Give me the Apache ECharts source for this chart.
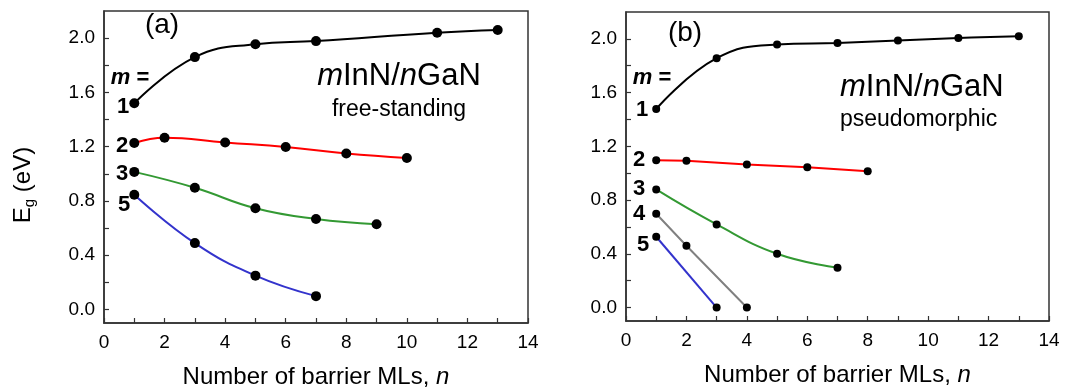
<!DOCTYPE html>
<html>
<head>
<meta charset="utf-8">
<script src="https://cdn.jsdelivr.net/npm/echarts@6/dist/echarts.min.js"></script>
<style>
  html, body { margin: 0; padding: 0; background: #fff; }
  #chart { width: 1072px; height: 389px; }
</style>
</head>
<body>
<div id="chart"></div>
<script>
// (a) free-standing
const aN1 = [1, 3, 5, 7, 11, 13]
const aE1 = [1.52, 1.86, 1.955, 1.978, 2.04, 2.06]
const aN2 = [1, 2, 4, 6, 8, 10]
const aE2 = [1.227, 1.266, 1.23, 1.198, 1.15, 1.117]
const aN3 = [1, 3, 5, 7, 9]
const aE3 = [1.014, 0.897, 0.746, 0.667, 0.628]
const aN5 = [1, 3, 5, 7]
const aE5 = [0.846, 0.489, 0.249, 0.098]

// (b) pseudomorphic
const bN1 = [1, 3, 5, 7, 9, 11, 13]
const bE1 = [1.478, 1.856, 1.958, 1.97, 1.988, 2.007, 2.02]
const bN2 = [1, 2, 4, 6, 8]
const bE2 = [1.097, 1.092, 1.064, 1.045, 1.015]
const bN3 = [1, 3, 5, 7]
const bE3 = [0.879, 0.619, 0.401, 0.297]
const bN4 = [1, 2, 4]
const bE4 = [0.698, 0.46, 0]
const bN5 = [1, 3]
const bE5 = [0.527, 0]

const xTicks = [0, 1, 2, 3, 4, 5, 6, 7, 8, 9, 10, 11, 12, 13, 14]
const xLabels = [0, 2, 4, 6, 8, 10, 12, 14]
const yTicks = [0, 0.2, 0.4, 0.6, 0.8, 1.0, 1.2, 1.4, 1.6, 1.8, 2.0]
const yLabels = [0, 0.4, 0.8, 1.2, 1.6, 2.0]

const FONT = "'Liberation Sans', Arial, sans-serif"
const FRAME = '#333'

const zip = (xs, ys) => xs.map((x, i) => [x, ys[i]])

function xAxisOf(gridIndex) {
  return {
    type: 'value', gridIndex, min: 0, max: 14,
    name: '{t|Number of barrier MLs, }{i|n}',
    nameLocation: 'middle', nameGap: 42,
    nameTextStyle: {
      rich: {
        t: { fontFamily: FONT, fontSize: 24, color: '#000' },
        i: { fontFamily: FONT, fontSize: 24, color: '#000', fontStyle: 'italic' }
      }
    },
    axisLine: { onZero: false, lineStyle: { color: FRAME, width: 1.5 } },
    axisTick: { inside: true, length: 5, customValues: xTicks, lineStyle: { color: FRAME, width: 1.2 } },
    axisLabel: { customValues: xLabels, margin: 10, fontFamily: FONT, fontSize: 19, color: '#000' },
    splitLine: { show: false }
  }
}

function yAxisOf(gridIndex) {
  return {
    type: 'value', gridIndex, min: -0.1, max: 2.2,
    axisLine: { onZero: false, lineStyle: { color: FRAME, width: 1.5 } },
    axisTick: { inside: true, length: 5, customValues: yTicks, lineStyle: { color: FRAME, width: 1.2 } },
    axisLabel: {
      customValues: yLabels, margin: 9, fontFamily: FONT, fontSize: 19, color: '#000',
      formatter: v => v.toFixed(1)
    },
    splitLine: { show: false }
  }
}

function curve(idx, xs, ys, color, smooth) {
  return {
    type: 'line', xAxisIndex: idx, yAxisIndex: idx,
    data: zip(xs, ys), smooth, showSymbol: false,
    lineStyle: { color, width: 2 }, z: 2
  }
}

function dots(idx, xs, ys, size) {
  return {
    type: 'scatter', xAxisIndex: idx, yAxisIndex: idx,
    data: zip(xs, ys), symbolSize: size,
    itemStyle: { color: '#000', opacity: 1 }, z: 3
  }
}

function txt(x, y, text, size, opts = {}) {
  return {
    type: 'text', x, y, z: 10,
    style: {
      text, font: `${opts.weight || 'normal'} ${size}px ${FONT}`, fill: '#000',
      align: opts.align || 'center', verticalAlign: 'middle'
    }
  }
}

function formula(x, y, align) {
  return {
    type: 'text', x, y, z: 10,
    style: {
      text: '{i|m}{r|InN/}{i|n}{r|GaN}', align, verticalAlign: 'middle',
      rich: {
        i: { fontFamily: FONT, fontSize: 31, fontStyle: 'italic', fill: '#000' },
        r: { fontFamily: FONT, fontSize: 31, fill: '#000' }
      }
    }
  }
}

function mEq(x, y) {
  return {
    type: 'text', x, y, z: 10,
    style: {
      text: '{i|m}{r| =}', align: 'center', verticalAlign: 'middle',
      rich: {
        i: { fontFamily: FONT, fontSize: 22, fontStyle: 'italic', fontWeight: 'bold', fill: '#000' },
        r: { fontFamily: FONT, fontSize: 22, fontWeight: 'bold', fill: '#000' }
      }
    }
  }
}

const chart = echarts.init(document.getElementById('chart'))

chart.setOption({
  animation: false,
  grid: [
    { left: 104, right: 544, top: 11, bottom: 66, outerBoundsMode: 'none', show: true, borderColor: FRAME, borderWidth: 1.5 },
    { left: 626, right: 23, top: 12, bottom: 68, outerBoundsMode: 'none', show: true, borderColor: FRAME, borderWidth: 1.5 }
  ],
  xAxis: [xAxisOf(0), xAxisOf(1)],
  yAxis: [yAxisOf(0), yAxisOf(1)],
  series: [
    curve(0, aN1, aE1, '#000', 0.45),
    curve(0, aN2, aE2, '#ff0000', 0.45),
    curve(0, aN3, aE3, '#339933', 0.45),
    curve(0, aN5, aE5, '#3333cc', 0.45),
    dots(0, aN1, aE1, 10),
    dots(0, aN2, aE2, 10),
    dots(0, aN3, aE3, 10),
    dots(0, aN5, aE5, 10),
    curve(1, bN1, bE1, '#000', 0.45),
    curve(1, bN2, bE2, '#ff0000', false),
    curve(1, bN3, bE3, '#339933', 0.45),
    curve(1, bN4, bE4, '#808080', false),
    curve(1, bN5, bE5, '#3333cc', false),
    dots(1, bN1, bE1, 8),
    dots(1, bN2, bE2, 8),
    dots(1, bN3, bE3, 8),
    dots(1, bN4, bE4, 8),
    dots(1, bN5, bE5, 8)
  ],
  graphic: [
    {
      type: 'text', x: 23, y: 185, rotation: Math.PI / 2, z: 10,
      style: {
        text: '{e|E}{g|g}{e| (eV)}', align: 'center', verticalAlign: 'middle',
        rich: {
          e: { fontFamily: FONT, fontSize: 24, fill: '#000', lineHeight: 28 },
          g: { fontFamily: FONT, fontSize: 15, fill: '#000', verticalAlign: 'bottom', lineHeight: 16 }
        }
      }
    },
    txt(162, 25, '(a)', 28),
    txt(685, 33, '(b)', 28),
    formula(399, 76, 'center'),
    txt(399, 110, 'free-standing', 23),
    formula(840, 87, 'left'),
    txt(840, 120, 'pseudomorphic', 23, { align: 'left' }),
    mEq(130, 78),
    txt(123, 107, '1', 22, { weight: 'bold' }),
    txt(122, 146, '2', 22, { weight: 'bold' }),
    txt(122, 174, '3', 22, { weight: 'bold' }),
    txt(124, 205, '5', 22, { weight: 'bold' }),
    mEq(652, 78),
    txt(642, 110, '1', 22, { weight: 'bold' }),
    txt(639, 160, '2', 22, { weight: 'bold' }),
    txt(639, 189, '3', 22, { weight: 'bold' }),
    txt(639, 214, '4', 22, { weight: 'bold' }),
    txt(643, 245, '5', 22, { weight: 'bold' })
  ]
})

window.addEventListener('resize', () => chart.resize())
</script>
</body>
</html>
